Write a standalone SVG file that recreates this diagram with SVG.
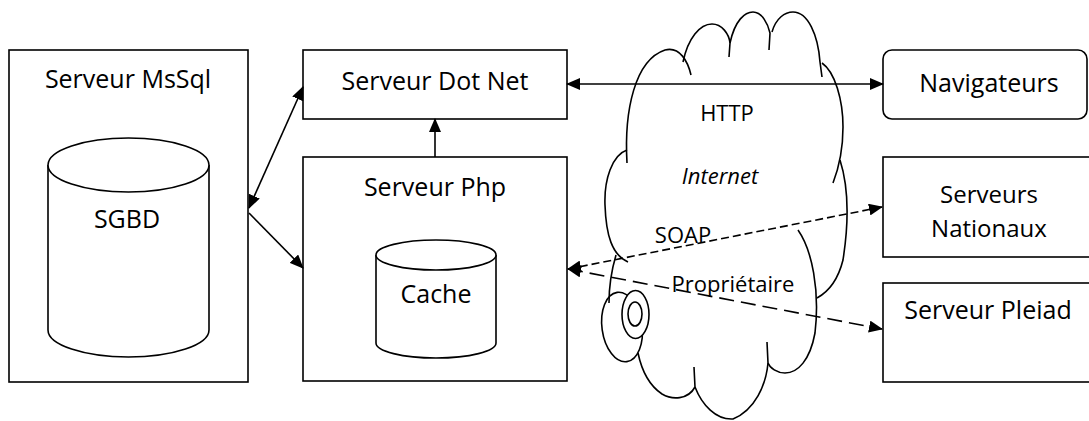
<svg xmlns="http://www.w3.org/2000/svg" width="1089" height="421" viewBox="0 0 1089 421">
<style>
.box{fill:#fff;stroke:#000;stroke-width:1.6}
.cyl{fill:#fff;stroke:#000;stroke-width:1.6}
.t{font-family:"Open Sans","Liberation Sans",sans-serif;font-size:25px;fill:#000;text-anchor:middle}
.t2{font-family:"Open Sans","Liberation Sans",sans-serif;font-size:24px;fill:#000;text-anchor:middle}
.tc{font-family:"Open Sans","Liberation Sans",sans-serif;font-size:22px;fill:#000;text-anchor:middle}
.ln{fill:none;stroke:#000;stroke-width:1.6}
.cl{fill:none;stroke:#000;stroke-width:1.6}
</style>
<defs>
<marker id="ah" markerUnits="userSpaceOnUse" markerWidth="14" markerHeight="12" refX="13" refY="6" orient="auto-start-reverse" viewBox="0 0 14 12">
<path d="M0,0 L14,6 L0,12 z" fill="#000"/>
</marker>
</defs>
<g id="cloud">
<path class="cl" d="M627,163 C624,110 635,60 665,50 C680,46 688,62 691,75"/>
<path class="cl" d="M683,62 C688,38 700,24 712,24 C722,24 729,34 730,43 L729,57"/>
<path class="cl" d="M730,43 C735,20 745,12 753,12 C762,12 768,24 770,33 L769,50"/>
<path class="cl" d="M772,32 C776,18 785,12 793,12 C808,12 818,35 820,62 L822,77"/>
<path class="cl" d="M822,63 C835,72 843,100 843,127 C843,150 838,170 833,183"/>
<path class="cl" d="M840,160 C848,185 850,215 843,260 C838,280 828,292 817,298"/>
<path class="cl" d="M798,230 C812,250 820,290 815,333 C810,360 798,373 785,373 C777,373 770,368 768,363"/>
<path class="cl" d="M767,342 L768,363 C766,385 755,410 733,419 C716,420 702,405 695,387"/>
<path class="cl" d="M694,367 L695,387 C688,400 672,400 662,394 C650,386 642,372 638,353"/>
<path class="cl" d="M627,150 C612,155 604,180 605,205 C606,235 612,255 628,262"/>
<path class="cl" d="M616,255 C611,272 609,290 609,303"/>
<ellipse class="cl" cx="622" cy="327" rx="20" ry="35" transform="rotate(-8 622 327)"/>
<ellipse cx="635.5" cy="314.5" rx="13.5" ry="24" fill="#fff" stroke="#000" stroke-width="1.6"/>
<ellipse cx="635" cy="314" rx="7" ry="12" fill="none" stroke="#000" stroke-width="1.6"/>
<text class="tc" x="727" y="121">HTTP</text>
<text class="tc" x="720" y="184" font-style="italic">Internet</text>
</g>
<g id="n-mssql">
<rect class="box" x="9" y="50" width="239" height="332"/>
<text class="t" x="128" y="88">Serveur MsSql</text>
<path class="cyl" d="M48,165 L48,330 A80.5,27 0 0 0 209,330 L209,165 A80.5,27 0 0 0 48,165 Z"/>
<path class="cyl" d="M48,165 A80.5,27 0 0 0 209,165"/>
<text class="t" x="127" y="228">SGBD</text>
</g>
<g id="n-dotnet">
<rect class="box" x="303" y="50" width="264" height="69"/>
<text class="t" x="435" y="90">Serveur Dot Net</text>
</g>
<g id="n-php">
<rect class="box" x="303" y="157" width="264" height="224"/>
<text class="t" x="435" y="196">Serveur Php</text>
<path class="cyl" d="M376,255 L376,343 A60,15 0 0 0 496,343 L496,255 A60,15 0 0 0 376,255 Z"/>
<path class="cyl" d="M376,255 A60,15 0 0 0 496,255"/>
<text class="t" x="436" y="303">Cache</text>
</g>
<g id="n-navigateurs">
<rect class="box" x="883" y="50" width="204" height="69" rx="9"/>
<text class="t" x="989" y="92">Navigateurs</text>
</g>
<g id="n-nationaux">
<rect class="box" x="883" y="157" width="210" height="100"/>
<text class="t2" x="989" y="203">Serveurs</text>
<text class="t2" x="989" y="237">Nationaux</text>
</g>
<g id="n-pleiad">
<rect class="box" x="883" y="283" width="210" height="99"/>
<text class="t" x="988" y="319">Serveur Pleiad</text>
</g>
<g id="connectors">
<line class="ln" x1="435" y1="157" x2="435" y2="119" marker-end="url(#ah)"/>
<line class="ln" x1="567" y1="84" x2="883" y2="84" marker-start="url(#ah)" marker-end="url(#ah)"/>
<line class="ln" x1="249" y1="208" x2="303" y2="87" marker-start="url(#ah)" marker-end="url(#ah)"/>
<line class="ln" x1="249" y1="213" x2="303" y2="268" marker-end="url(#ah)"/>
<line class="ln" x1="568" y1="269" x2="882" y2="207" stroke-dasharray="8 4" marker-start="url(#ah)" marker-end="url(#ah)"/>
<line class="ln" x1="568" y1="269" x2="882" y2="329" stroke-dasharray="15 7" marker-start="url(#ah)" marker-end="url(#ah)"/>
<text class="tc" x="683" y="243">SOAP</text>
<text class="tc" x="733" y="292">Propriétaire</text>
</g>
</svg>
